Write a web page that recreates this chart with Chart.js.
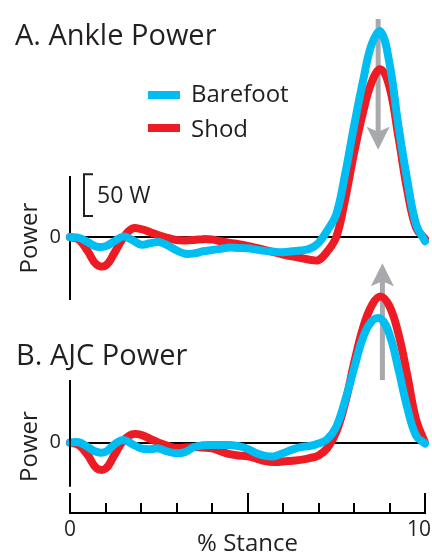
<!DOCTYPE html>
<html><head><meta charset="utf-8">
<script src="https://cdn.jsdelivr.net/npm/chart.js@4/dist/chart.umd.min.js"></script>
<style>
html,body{margin:0;padding:0;background:#fff;overflow:hidden;}
#wrap{position:relative;width:432px;height:556px;font-family:'Open Sans',sans-serif;color:#231f20;}
canvas{position:absolute;left:0;}
.t{position:absolute;white-space:nowrap;line-height:1;}
.sw{position:absolute;height:8px;width:32px;left:148px;}
</style></head><body>
<div id="wrap">
<canvas id="cB" width="432" height="306" style="top:250px"></canvas>
<canvas id="cA" width="432" height="320" style="top:0px"></canvas>
<div class="t" style="left:15px;top:19px;font-size:29px">A. Ankle Power</div>
<div class="t" style="left:16px;top:339px;font-size:29px">B. AJC Power</div>
<div class="sw" style="top:91px;background:#00BDF2"></div>
<div class="sw" style="top:124px;background:#ED1C24"></div>
<div class="t" style="left:191px;top:81px;font-size:24px">Barefoot</div>
<div class="t" style="left:191px;top:116px;font-size:24px">Shod</div>
<div class="t" style="left:97px;top:183px;font-size:23px">50 W</div>
</div>
<script>
// % stance
const stance = [0,2.5,5,7.5,10,12.5,15,17.5,20,22.5,25,27.5,30,32.5,35,37.5,40,42.5,45,47.5,50,52.5,55,57.5,60,62.5,65,67.5,70,72.5,75,77.5,80,82.5,85,87.5,90,92.5,95,97.5,100];
// A. Ankle power (W)
const ankleShod = [0,-3,-17,-33,-34,-19,-1,10,9.5,6,2,-1,-3.5,-4,-3.5,-2.5,-3,-5,-7,-8.5,-10.5,-13,-15.5,-18,-21,-23,-25,-27,-27.5,-17,0,45,100,148,185,200,179,120,56,11,-2];
const ankleBarefoot = [0,-1,-6,-11.5,-11,-5,0.5,-3.5,-9,-7.5,-6,-10,-16,-20,-19.5,-17,-15.5,-14,-12.5,-13,-13.5,-15,-16.5,-17.5,-18,-17,-16,-14,-7,8,27,75,132,185,230,245,207,133,68,15,-5];
// B. AJC power (W)
const ajcShod = [0,-3,-14,-29,-29.5,-14,2,9.5,9,4.5,0,-3.5,-6,-5.5,-5,-5.5,-6.5,-10,-13,-14.5,-15.5,-18,-21,-22,-21.5,-20.5,-19.5,-17.5,-14.5,-6,12,45,90,130,156,166,155,124,77,26,0];
const ajcBarefoot = [0,0.5,-5,-10.5,-10.5,-2,3,-1.5,-6.5,-7.5,-6.5,-10,-12,-10.5,-5,-3,-2.6,-2.6,-2.6,-4,-7,-12,-15,-15.5,-12,-8,-5,-3.8,-1,4,18,48,84,119,138,141,123,84,40,8,-1];
// axis ticks / annotations
const xTicks = [0,10,20,30,40,50,60,70,80,90,100];
const xMajor = [0,50,100];
const scaleBarW = [25,75];       // 50 W scale bar
const arrowA = [86.8, 260, 104]; // x (% stance), from W, tip W
const arrowB = [88.0, 71.25, 204];

const RED = '#ED1C24', BLUE = '#00BDF2', GREY = '#A7A9AC', INK = '#231f20';
const FONT = 'Open Sans';

function pts(v){ return stance.map((s,i)=>({x:s,y:v[i]})); }
function ds(label, v, color){
  return {label, data: pts(v), borderColor: color, backgroundColor: color, borderWidth: 8,
    pointRadius: 0, tension: 0.4, clip: false, fill: false, borderCapStyle: 'round', borderJoinStyle: 'round'};
}
function drawArrow(ctx, x, yFrom, yTip){
  const dir = Math.sign(yTip - yFrom);
  const headLen = 20, headW = 23;
  const yBase = yTip - dir*headLen;
  ctx.save();
  ctx.strokeStyle = GREY; ctx.fillStyle = GREY; ctx.lineWidth = 5;
  ctx.beginPath(); ctx.moveTo(x, yFrom); ctx.lineTo(x, yBase + dir*2); ctx.stroke();
  ctx.beginPath();
  ctx.moveTo(x - headW/2, yBase - dir*3);
  ctx.lineTo(x, yTip);
  ctx.lineTo(x + headW/2, yBase - dir*3);
  ctx.lineTo(x, yBase + dir*2);
  ctx.closePath(); ctx.fill();
  ctx.restore();
}
function yScaleOpts(min, max, border){
  return {
    min, max,
    afterFit(s){ s.width = 70; },
    afterBuildTicks(s){ s.ticks = [{value:0}]; },
    grid: {color:'#000', lineWidth: 2, drawTicks: false},
    border: {display: border, color:'#000', width: 2},
    ticks: {padding: 9, font: {family: FONT, size: 20}, color: INK},
    title: {display: true, text: 'Power', font: {family: FONT, size: 24}, color: INK, padding: {top: 16, bottom: 0}}
  };
}

const pluginA = {
  id: 'annA',
  beforeDatasetsDraw(chart){
    const {ctx, scales:{x, y}} = chart;
    drawArrow(ctx, x.getPixelForValue(arrowA[0]), y.getPixelForValue(arrowA[1]), y.getPixelForValue(arrowA[2]));
  },
  afterDraw(chart){
    const {ctx, scales:{y}, chartArea} = chart;
    const bx = chartArea.left + 14, t = y.getPixelForValue(scaleBarW[1]), b = y.getPixelForValue(scaleBarW[0]);
    ctx.save(); ctx.strokeStyle = INK; ctx.lineWidth = 2;
    ctx.beginPath(); ctx.moveTo(bx + 9, t); ctx.lineTo(bx, t); ctx.lineTo(bx, b); ctx.lineTo(bx + 9, b); ctx.stroke();
    ctx.restore();
  }
};
const pluginB = {
  id: 'annB',
  beforeDatasetsDraw(chart){
    const {ctx, scales:{x, y}} = chart;
    drawArrow(ctx, x.getPixelForValue(arrowB[0]), y.getPixelForValue(arrowB[1]), y.getPixelForValue(arrowB[2]));
  },
  afterDraw(chart){
    const {ctx, scales:{x, y}, chartArea} = chart;
    ctx.save(); ctx.strokeStyle = '#000'; ctx.lineWidth = 2;
    const lx = Math.round(chartArea.left);
    ctx.beginPath(); ctx.moveTo(lx, y.getPixelForValue(arrowB[1])); ctx.lineTo(lx, y.getPixelForValue(-50)); ctx.stroke();
    const yb = chartArea.bottom;
    xTicks.forEach(v => {
      const px = Math.round(x.getPixelForValue(v));
      const len = xMajor.includes(v) ? 20 : 10;
      ctx.beginPath(); ctx.moveTo(px, yb); ctx.lineTo(px, yb - len); ctx.stroke();
    });
    ctx.restore();
  }
};

new Chart(document.getElementById('cA'), {
  type: 'line',
  data: {datasets: [ds('Barefoot', ankleBarefoot, BLUE), ds('Shod', ankleShod, RED)]},
  options: {
    responsive: false, animation: false, devicePixelRatio: 1,
    layout: {padding: {top: 177, right: 7, bottom: 15, left: 0}},
    plugins: {legend: {display: false}, tooltip: {enabled: false}},
    scales: {
      x: {type: 'linear', min: 0, max: 100, display: false},
      y: yScaleOpts(-73.9, 71.6, true)
    }
  },
  plugins: [pluginA]
});

new Chart(document.getElementById('cB'), {
  type: 'line',
  data: {datasets: [ds('Barefoot', ajcBarefoot, BLUE), ds('Shod', ajcShod, RED)]},
  options: {
    responsive: false, animation: false, devicePixelRatio: 1,
    layout: {padding: {top: 130, right: 7, bottom: 0, left: 0}},
    plugins: {legend: {display: false}, tooltip: {enabled: false}},
    scales: {
      x: {
        type: 'linear', min: 0, max: 100,
        afterFit(s){ s.height = 43; s.paddingLeft = 0; s.paddingRight = 0; },
        afterBuildTicks(s){ s.ticks = xTicks.map(v => ({value: v})); },
        grid: {display: false, drawTicks: false},
        border: {display: true, color: '#000', width: 2},
        ticks: {callback: v => (v === 0 || v === 100) ? String(v) : '', autoSkip: false, maxRotation: 0,
          padding: 4, font: {family: FONT, size: 21}, color: INK},
        title: {display: true, text: '% Stance', font: {family: FONT, size: 24}, color: INK, padding: {top: 0, bottom: -3}}
      },
      y: yScaleOpts(-79.9, 71.25, false)
    }
  },
  plugins: [pluginB]
});
</script>
</body></html>
